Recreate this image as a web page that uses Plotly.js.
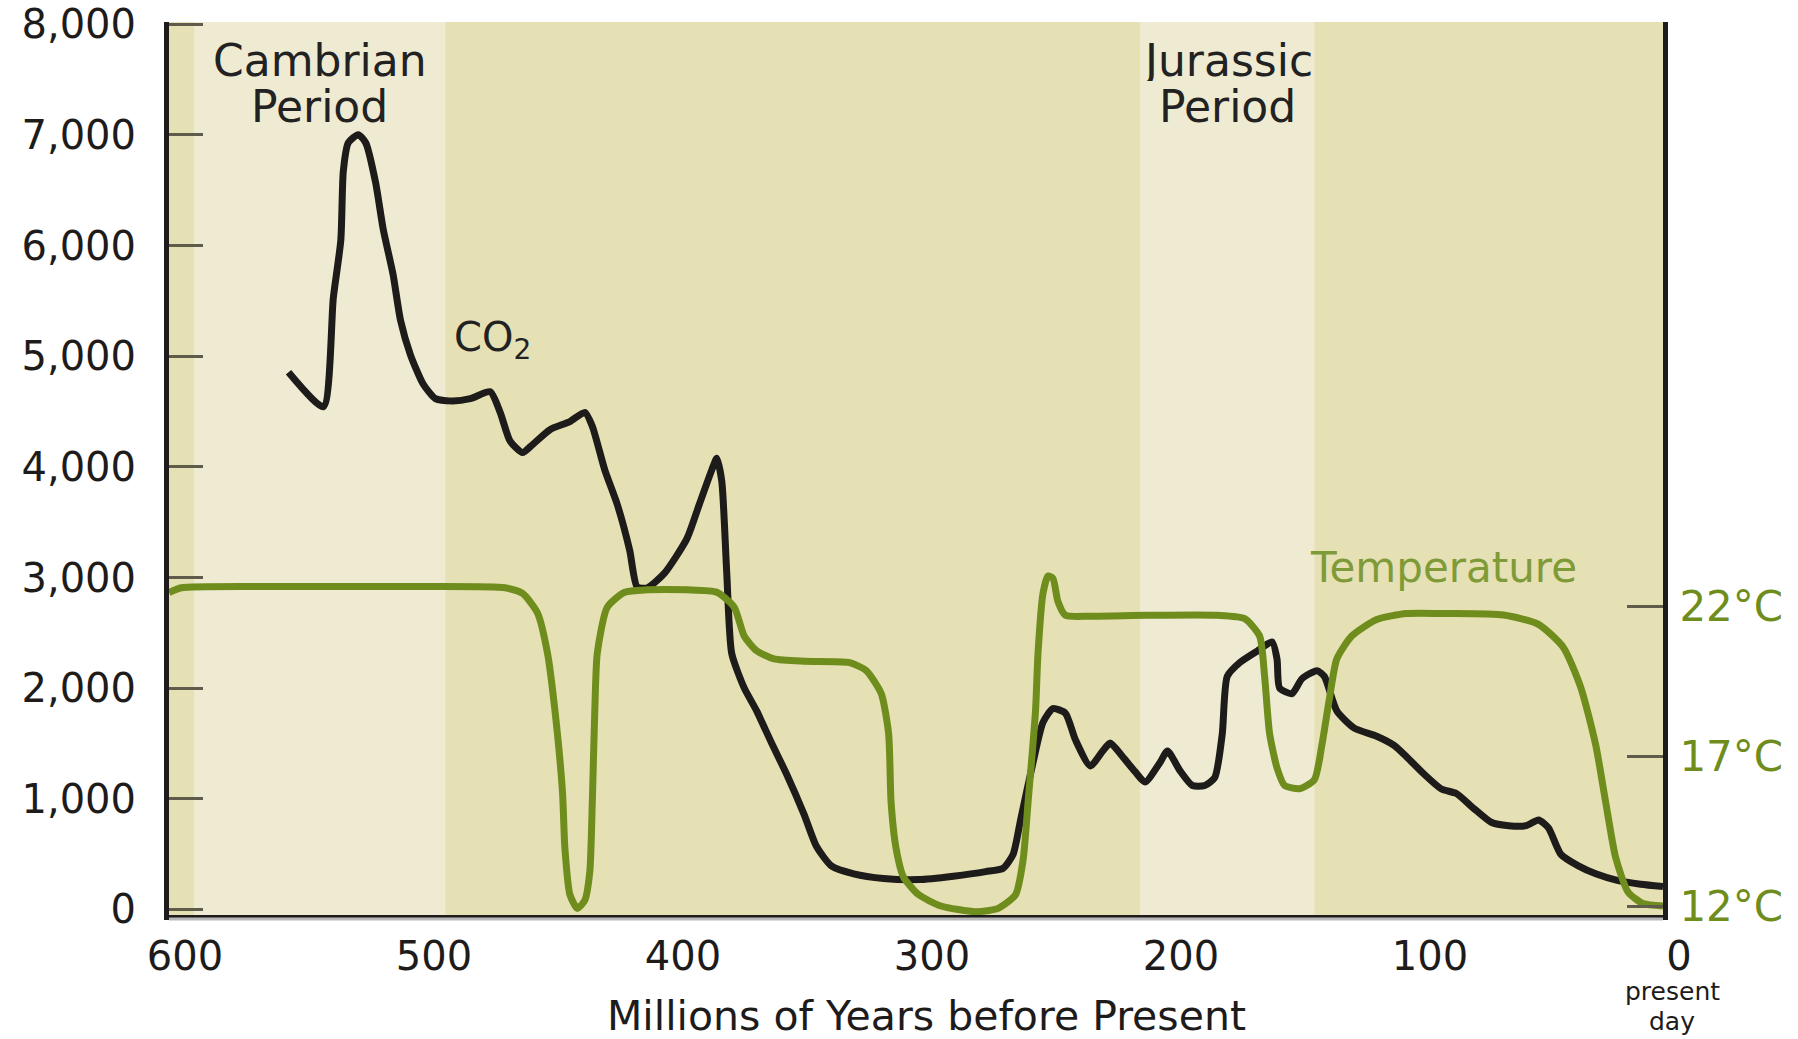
<!DOCTYPE html>
<html>
<head>
<meta charset="utf-8">
<script src="https://cdn.plot.ly/plotly-3.0.1.min.js"></script>
<style>html,body{margin:0;padding:0;background:#fff;}#chart{width:1798px;height:1039px;}</style>
</head>
<body>
<div id="chart"></div>
<script>
// CO2 (ppm) vs millions of years before present
const co2Myr = [552, 538, 534, 531, 530, 528, 524, 521, 517, 514, 510, 507, 503, 498, 493, 486, 479, 471, 467, 463, 458, 454, 447, 439, 433, 430, 425, 420, 415, 412, 408, 401, 392, 387, 382, 380, 378, 376, 374, 369, 364, 358, 352, 345, 340, 334, 325, 313, 299, 285, 272, 265, 261, 258, 253, 249, 245, 240, 236, 230, 225, 222, 217, 212, 208, 202, 199, 194, 189, 184, 180, 177, 175, 170, 163, 157, 155, 154, 149, 145, 139, 136, 131, 124, 115, 108, 103, 96, 89, 83, 76, 69, 62, 55, 50, 46, 41, 34, 27, 18, 9, 0];
const co2Ppm = [4855, 4544, 5529, 6048, 6670, 6929, 7002, 6929, 6566, 6151, 5737, 5322, 5010, 4751, 4616, 4595, 4616, 4678, 4492, 4232, 4129, 4201, 4336, 4409, 4492, 4367, 3973, 3662, 3247, 2915, 2905, 3039, 3351, 3662, 3973, 4077, 3869, 3039, 2313, 2002, 1795, 1504, 1224, 861, 571, 394, 322, 280, 270, 301, 342, 373, 498, 809, 1328, 1691, 1815, 1774, 1535, 1297, 1432, 1504, 1380, 1245, 1151, 1328, 1432, 1255, 1120, 1120, 1193, 1587, 2106, 2230, 2334, 2417, 2261, 2002, 1950, 2085, 2158, 2106, 1795, 1639, 1566, 1483, 1380, 1224, 1089, 1048, 913, 788, 757, 757, 809, 737, 498, 394, 322, 260, 228, 207];

// Temperature (°C) vs millions of years before present
const tempMyr = [600, 595, 553, 507, 465, 458, 452, 448, 445, 442, 441, 439, 436, 433, 431, 430, 429, 428, 424, 417, 408, 392, 380, 373, 369, 364, 357, 345, 327, 320, 314, 311, 310, 308, 305, 299, 290, 276, 267, 260, 257, 255, 252, 251, 249, 247, 245, 243, 240, 230, 207, 179, 168, 162, 160, 158, 155, 152, 146, 140, 137, 134, 131, 125, 115, 103, 87, 64, 50, 40, 33, 27, 23, 19, 14, 8, 0];
const tempC = [22.45, 22.61, 22.65, 22.65, 22.61, 22.42, 21.77, 20.43, 18.51, 15.83, 13.92, 12.38, 11.92, 12.19, 13.15, 15.45, 18.51, 20.43, 21.96, 22.46, 22.54, 22.54, 22.46, 21.96, 21.0, 20.51, 20.24, 20.16, 20.12, 19.85, 19.09, 17.75, 15.45, 13.92, 12.96, 12.38, 12.0, 11.81, 11.92, 12.38, 13.53, 15.45, 18.51, 20.43, 22.42, 23.0, 22.92, 22.15, 21.69, 21.66, 21.69, 21.69, 21.58, 21.0, 19.66, 17.75, 16.6, 16.02, 15.91, 16.21, 17.36, 18.9, 20.24, 21.0, 21.55, 21.75, 21.75, 21.7, 21.39, 20.62, 19.28, 17.36, 15.45, 13.61, 12.46, 12.08, 12.0];

// Geological periods highlighted
const periodNames = ["Cambrian", "Jurassic"];
const periodStart = [590, 210];
const periodEnd = [489, 140];

// Axis ticks
const xTickVals = [600, 500, 400, 300, 200, 100, 0];
const xTickText = ["600", "500", "400", "300", "200", "100", "0"];
const yTickVals = [0, 1000, 2000, 3000, 4000, 5000, 6000, 7000, 8000];
const yTickText = ["0", "1,000", "2,000", "3,000", "4,000", "5,000", "6,000", "7,000", "8,000"];
const tTickVals = [12, 17, 22];
const tTickText = ["12°C", "17°C", "22°C"];

const FONT = "DejaVu Sans";
const INK = "#1e1b1b";
const GREEN = "#6f8d1c";

const traces = [
  {
    x: co2Myr, y: co2Ppm, type: "scatter", mode: "lines", name: "CO2",
    line: {color: INK, width: 7, shape: "spline", smoothing: 0.6},
    hoverinfo: "skip", showlegend: false
  },
  {
    x: tempMyr, y: tempC, type: "scatter", mode: "lines", name: "Temperature", yaxis: "y2",
    line: {color: GREEN, width: 7, shape: "spline", smoothing: 0.6},
    hoverinfo: "skip", showlegend: false
  }
];

const shapes = periodStart.map((s, i) => ({
  type: "rect", xref: "x", yref: "paper", x0: s, x1: periodEnd[i], y0: 0, y1: 1,
  fillcolor: "#efebd2", line: {width: 0}, layer: "below"
}));
// grey shadow under the bottom axis
shapes.push({type: "line", xref: "paper", yref: "paper", x0: 0, x1: 1, y0: -0.0045, y1: -0.0045,
  line: {color: "#b9b9b9", width: 3}});

const annotations = [];
function note(text, x, xref, y, yref, size, color, xshift, h) {
  const a = {text: text, x: x, xref: xref, y: y, yref: yref, xshift: xshift || 0,
    xanchor: "center", yanchor: "middle", valign: "middle", showarrow: false, borderpad: 0,
    font: {family: FONT, size: size, color: color}};
  if (h) a.height = h;
  annotations.push(a);
}
periodNames.forEach((n, i) => {
  const cx = (periodStart[i] + periodEnd[i]) / 2;
  note(n, cx, "x", 0.957, "paper", 44, "#222", 0, 42);
  note("Period", cx, "x", 0.906, "paper", 44, "#222", 0, 42);
});
note("CO<sub>2</sub>", 470, "x", 5150, "y", 40, "#222");
note("Temperature", 88, "x", 23.27, "y2", 42, "#7f9b38");
note("Millions of Years before Present", 0.507, "paper", -0.1135, "paper", 41, INK, 0, 44);
note("present", 0, "x", -0.086, "paper", 25, INK, 9);
note("day", 0, "x", -0.1195, "paper", 25, INK, 9);

const layout = {
  width: 1798, height: 1039,
  margin: {l: 169, r: 135, t: 22, b: 124, pad: 0},
  paper_bgcolor: "#ffffff", plot_bgcolor: "#e6e0b5",
  showlegend: false,
  xaxis: {
    range: [600, 0], tickvals: xTickVals, ticktext: xTickText, ticks: "",
    showgrid: false, zeroline: false, showline: true, linecolor: INK, linewidth: 5,
    tickfont: {family: FONT, size: 40, color: INK}, ticklabelstandoff: 2, ticklabelshift: -16
  },
  yaxis: {
    range: [-50, 8020], tickvals: yTickVals, ticktext: yTickText,
    ticks: "inside", ticklen: 34, tickwidth: 3, tickcolor: "#5f5c4c",
    showgrid: false, zeroline: false, showline: true, linecolor: INK, linewidth: 5,
    tickfont: {family: FONT, size: 40, color: INK}, ticklabelstandoff: 20
  },
  yaxis2: {
    overlaying: "y", side: "right", range: [11.7, 41.47],
    tickvals: tTickVals, ticktext: tTickText,
    ticks: "inside", ticklen: 36, tickwidth: 3, tickcolor: "#5f5c4c",
    showgrid: false, zeroline: false, showline: true, linecolor: INK, linewidth: 5,
    tickfont: {family: FONT, size: 42, color: GREEN}, ticklabelstandoff: 3
  },
  shapes: shapes,
  annotations: annotations
};

Plotly.newPlot("chart", traces, layout, {staticPlot: true, displayModeBar: false});
</script>
</body>
</html>
